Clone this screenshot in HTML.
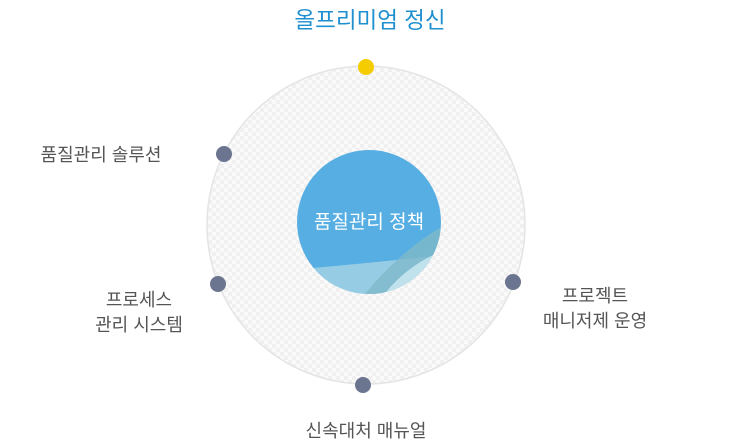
<!DOCTYPE html>
<html><head><meta charset="utf-8"><style>
html,body{margin:0;padding:0;background:#fff;}
svg{display:block;}
text{font-family:"Liberation Sans","Noto Sans CJK KR",sans-serif;}
</style></head><body>
<svg width="731" height="447" viewBox="0 0 731 447" xmlns="http://www.w3.org/2000/svg">
<defs>
<pattern id="chk" width="8" height="8" patternUnits="userSpaceOnUse">
<rect width="8" height="8" fill="#fafafa"/>
<rect width="4" height="4" fill="#f0f0f0"/>
<rect x="4" y="4" width="4" height="4" fill="#f0f0f0"/>
</pattern>
<clipPath id="ic"><circle cx="369" cy="222" r="72"/></clipPath>
</defs>
<text x="370" y="28" font-size="22.5" fill="#1f8fd0" text-anchor="middle">올프리미엄 정신</text>
<circle cx="366" cy="225" r="159" fill="url(#chk)" stroke="#e4e4e4" stroke-width="1.5"/>
<circle cx="369" cy="222" r="72" fill="#56aee2"/>
<g clip-path="url(#ic)">
<path d="M290 270 Q380 262 445 255 L445 300 L290 300Z" fill="#9fd0e4" opacity="0.9"/>
<path d="M445 225 Q400 250 360 300 L445 300Z" fill="#7fb9c9" opacity="0.8"/>
<path d="M380 300 Q405 265 445 250 L445 300Z" fill="#c6e6ef" opacity="0.9"/>
</g>
<text x="369" y="228" font-size="19" fill="#fff" text-anchor="middle">품질관리 정책</text>
<circle cx="366" cy="67" r="8" fill="#f5cc00"/>
<circle cx="224" cy="154" r="8" fill="#6b7590"/>
<circle cx="218" cy="284" r="8" fill="#6b7590"/>
<circle cx="513" cy="282" r="8" fill="#6b7590"/>
<circle cx="363" cy="385" r="8" fill="#6b7590"/>
<g font-size="18" fill="#555">
<text x="101" y="161" text-anchor="middle">품질관리 솔루션</text>
<text x="139" y="306" text-anchor="middle">프로세스</text>
<text x="139" y="331" text-anchor="middle">관리 시스템</text>
<text x="595" y="302" text-anchor="middle">프로젝트</text>
<text x="595" y="327" text-anchor="middle">매니저제 운영</text>
<text x="366" y="437" text-anchor="middle">신속대처 매뉴얼</text>
</g>
</svg>
</body></html>
